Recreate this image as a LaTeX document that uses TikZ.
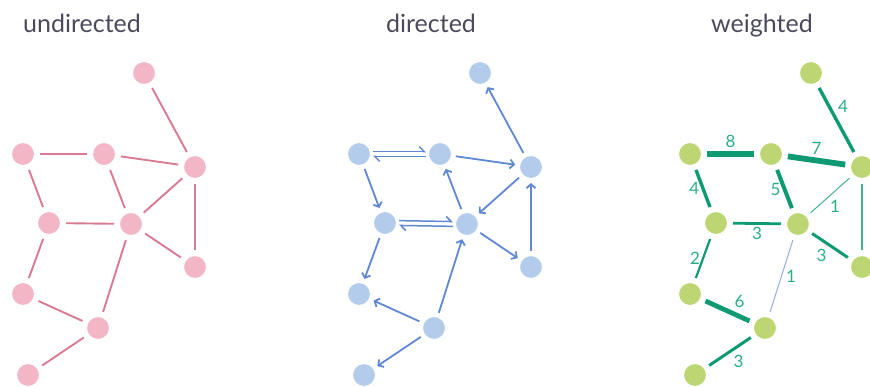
\documentclass[tikz,border=0pt]{standalone}
\usepackage{fontspec}
\setmainfont{Lato}
\usepackage{xcolor}
\usetikzlibrary{arrows.meta}

\definecolor{pinknode}{HTML}{F2B6C6}
\definecolor{pinkedge}{HTML}{D87A92}
\definecolor{bluenode}{HTML}{B4CCEB}
\definecolor{blueedge}{HTML}{5F88D2}
\definecolor{bluethin}{HTML}{93ADE3}
\definecolor{greennode}{HTML}{BBD672}
\definecolor{greenedge}{HTML}{0F9A74}
\definecolor{greenlight}{HTML}{41B18E}
\definecolor{weightcol}{HTML}{2AAE88}
\definecolor{titlecol}{HTML}{4A4A5C}

\tikzset{
  vertex/.style={circle, draw=white, line width=1pt, minimum size=23pt, inner sep=0pt},
  unode/.style={vertex, fill=pinknode},
  dnode/.style={vertex, fill=bluenode},
  wnode/.style={vertex, fill=greennode},
  uedge/.style={pinkedge, line width=1.9pt, shorten <=5pt, shorten >=5pt},
  dedge/.style={blueedge, line width=1.8pt, shorten <=4pt, shorten >=4pt,
    -{Straight Barb[length=4pt, width=9pt]}},
  dharp/.style={blueedge, line width=1.5pt, shorten <=2pt, shorten >=2pt,
    -{Straight Barb[left, length=5pt, width=10pt]}},
  wedge/.style={greenedge, shorten <=5pt, shorten >=5pt},
  wlabel/.style={text=weightcol, font=\fontsize{17}{18}\selectfont, inner sep=2pt},
  title/.style={text=titlecol, font=\fontsize{25}{28}\selectfont, anchor=base}
}

\begin{document}
\begin{tikzpicture}[x=1pt, y=-1pt]
  \useasboundingbox (0,0) rectangle (870,387);
  \clip (0,0) rectangle (870,387);

  % titles
  \node[title] (tu) at (82,33) {undirected};
  \node[title] (td) at (431,33) {directed};
  \node[title] (tw) at (762,33) {weighted};

  % the same ten vertices, three times
  \foreach \n/\x/\y in {a/144/73, b/23/154, c/104/154, d/195/167, e/49/223,
                        f/131/224, g/195/267, h/23/294, i/98/328, j/28/375} {
    \node[unode] (u\n) at (\x,\y) {};
    \node[dnode] (d\n) at (\x+336,\y) {};
    \node[wnode] (w\n) at (\x+667,\y) {};
  }

  % undirected
  \foreach \s/\t in {a/d, b/c, c/d, b/e, c/f, d/f, d/g, e/f, f/g, e/h, f/i, h/i, i/j}
    \draw[uedge] (u\s) -- (u\t);

  % directed
  \foreach \s/\t in {d/a, c/d, b/e, f/c, d/f, f/g, g/d, e/h, i/f, i/h, i/j}
    \draw[dedge] (d\s) -- (d\t);
  \draw[dharp] ([yshift=2.4pt]db.east) -- ([yshift=2.4pt]dc.west);
  \draw[dharp] ([yshift=-2.4pt]dc.west) -- ([yshift=-2.4pt]db.east);
  \draw[dharp] ([yshift=2.4pt]de.east) -- ([yshift=2.4pt]df.west);
  \draw[dharp] ([yshift=-2.4pt]df.west) -- ([yshift=-2.4pt]de.east);

  % weighted
  \draw[wedge, line width=3.4pt] (wa) -- node[wlabel, above right, pos=0.45] {4} (wd);
  \draw[wedge, line width=6.4pt] (wb) -- node[wlabel, above=1pt] {8} (wc);
  \draw[wedge, line width=5.8pt] (wc) -- node[wlabel, above=1pt] {7} (wd);
  \draw[wedge, line width=3.4pt] (wb) -- node[wlabel, left] {4} (we);
  \draw[wedge, line width=4pt]   (wc) -- node[wlabel, left] {5} (wf);
  \draw[wedge, greenlight, line width=1pt] (wd) -- node[wlabel, below right, pos=0.55] {1} (wf);
  \draw[wedge, greenlight, line width=2pt] (wd) -- (wg);
  \draw[wedge, line width=2.8pt] (we) -- node[wlabel, below] {3} (wf);
  \draw[wedge, line width=3pt]   (wf) -- node[wlabel, below left] {3} (wg);
  \draw[wedge, line width=2.2pt] (we) -- node[wlabel, left] {2} (wh);
  \draw[wedge, bluethin, line width=1pt] (wf) -- node[wlabel, right=2pt] {1} (wi);
  \draw[wedge, line width=4.8pt] (wh) -- node[wlabel, above right, pos=0.55] {6} (wi);
  \draw[wedge, line width=3pt]   (wi) -- node[wlabel, below right] {3} (wj);
\end{tikzpicture}
\end{document}
